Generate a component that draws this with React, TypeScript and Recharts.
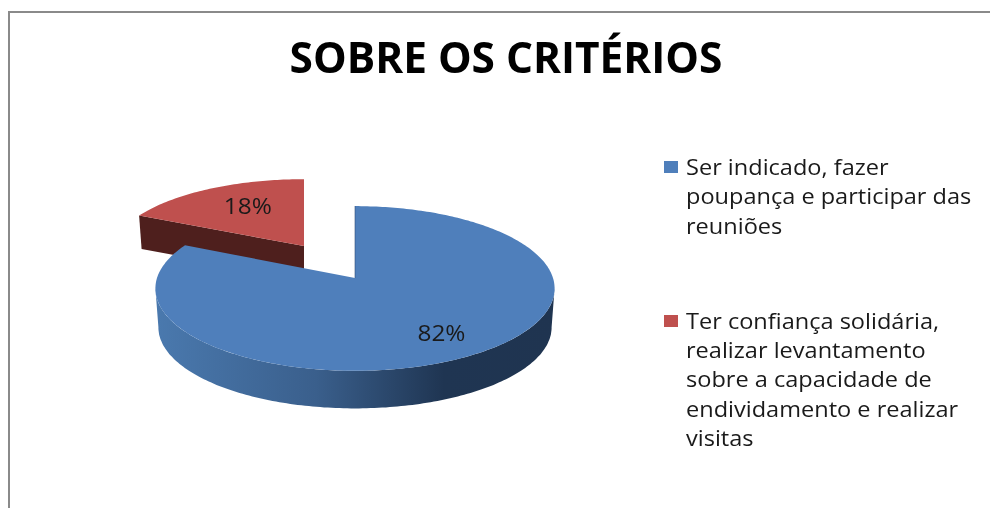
import React from 'react';
import { PieChart, Pie, Legend } from 'recharts';

const CATEGORIES = [
  'Ser indicado, fazer poupança e participar das reuniões',
  'Ter confiança solidária, realizar levantamento sobre a capacidade de endividamento e realizar visitas',
];
const VALUES = [82, 18];
const COLORS = ['#4f7fbb', '#bf504e'];
const TITLE = 'SOBRE OS CRITÉRIOS';

// drawn back to front, so the exploded slice goes first
const pieData = CATEGORIES.map((name, i) => ({ name, value: VALUES[i], fill: COLORS[i] })).reverse();
const total = VALUES.reduce((a, b) => a + b, 0);
const START_ANGLE = 90 + (VALUES[1] / total) * 360;

const CX = 355;
const CY = 278;
const RADIUS = 198;
const SQUASH = 81;
const PERSPECTIVE = 0.127;
const BOTTOM_SCALE = 0.985;

// per slice look of the fake 3D, keyed by category
const SLICE_LOOK: Record<string, any> = {
  [CATEGORIES[0]]: { dx: 0, dy: 0, scaleX: 1, scaleY: 1, depth: 39, labelR: 0.75, labelDy: -1 },
  [CATEGORIES[1]]: { dx: -51, dy: -32, scaleX: 0.97, scaleY: 0.93, depth: 33, labelR: 0.58, labelDy: -5 },
};

const project = (angle: number, r: number, look: any, drop = 0, scale = 1) => {
  const t = (angle * Math.PI) / 180;
  const w = 1 + PERSPECTIVE * r * Math.sin(t);
  return {
    x: CX + look.dx + (RADIUS * r * Math.cos(t) * look.scaleX * scale) / w,
    y: CY + look.dy + drop - (SQUASH * r * Math.sin(t) * look.scaleY * scale) / w,
  };
};

const arcPoints = (from: number, to: number, look: any, drop = 0, scale = 1) => {
  const steps = Math.max(2, Math.ceil(Math.abs(to - from)));
  const pts = [];
  for (let i = 0; i <= steps; i++) {
    pts.push(project(from + ((to - from) * i) / steps, 1, look, drop, scale));
  }
  return pts;
};

const toPath = (pts: { x: number; y: number }[]) =>
  'M' + pts.map((p) => `${p.x.toFixed(1)},${p.y.toFixed(1)}`).join('L') + 'Z';

const Slice3D = (props: any) => {
  const { startAngle, endAngle, fill, name, payload } = props;
  const look = SLICE_LOOK[name ?? payload?.name];
  const hi = Math.max(startAngle, endAngle);
  const lo = Math.min(startAngle, endAngle);
  const apex = project(0, 0, look);
  const isBlue = look.dx === 0;

  let wall;
  if (isBlue) {
    // outer rim between the two widest points of the ellipse
    const widest = (Math.asin(PERSPECTIVE) * 180) / Math.PI;
    const top = arcPoints(-180 + widest, -widest, look);
    const bottom = arcPoints(-widest, -180 + widest, look, look.depth, BOTTOM_SCALE);
    wall = <path d={toPath([...top, ...bottom])} fill="url(#blueRim)" />;
  } else {
    const tip = project(hi, 1, look);
    const tipLow = project(hi, 1, look, look.depth, BOTTOM_SCALE);
    wall = (
      <path
        d={toPath([tip, apex, { x: apex.x, y: apex.y + look.depth }, tipLow])}
        fill="#4e1f1d"
      />
    );
  }

  return (
    <g>
      <defs>
        <linearGradient id="blueRim" gradientUnits="userSpaceOnUse" x1="156" y1="0" x2="556" y2="0">
          <stop offset="0" stopColor="#4a79ae" />
          <stop offset="0.4" stopColor="#3a5f8c" />
          <stop offset="0.72" stopColor="#1f3552" />
          <stop offset="1" stopColor="#1f3450" />
        </linearGradient>
      </defs>
      {wall}
      <path d={toPath([apex, ...arcPoints(lo, hi, look)])} fill={fill} />
      {isBlue && (
        <line x1={apex.x} y1={apex.y} x2={apex.x} y2={apex.y - 72} stroke="#2f4f78" strokeOpacity={0.6} />
      )}
    </g>
  );
};

const renderLabel = (props: any) => {
  const { midAngle, percent, name, payload } = props;
  const look = SLICE_LOOK[name ?? payload?.name];
  const p = project(midAngle, look.labelR, look);
  return (
    <text
      x={p.x}
      y={p.y + look.labelDy}
      textAnchor="middle"
      dominantBaseline="central"
      fontFamily="'Open Sans', sans-serif"
      fontSize={21}
      textLength={48}
      lengthAdjust="spacingAndGlyphs"
      fill="#1a1a1a"
    >
      {`${Math.round(percent * 100)}%`}
    </text>
  );
};

const LegendList = () => (
  <div style={{ fontFamily: "'Open Sans', sans-serif", fontSize: 22, lineHeight: '29.3px', color: '#1a1a1a' }}>
    {CATEGORIES.map((name, i) => (
      <div key={name} style={{ position: 'relative', paddingLeft: 22, marginBottom: i === 0 ? 66 : 0 }}>
        <span
          style={{
            position: 'absolute',
            left: 0,
            top: 9,
            width: 14,
            height: 12,
            background: COLORS[i],
          }}
        />
        {/* the source picture is stretched sideways, the text too */}
        <div style={{ width: 272, transform: 'scaleX(1.07)', transformOrigin: 'left top' }}>{name}</div>
      </div>
    ))}
  </div>
);

export default function App() {
  return (
    <div
      style={{
        position: 'absolute',
        left: 0,
        top: 0,
        width: 990,
        height: 508,
        overflow: 'hidden',
        background: '#fff',
        filter: 'blur(0.4px)',
      }}
    >
      <div
        style={{
          position: 'absolute',
          left: 8,
          top: 11,
          width: 990,
          height: 520,
          borderTop: '2px solid #8a8a8a',
          borderLeft: '2px solid #8a8a8a',
        }}
      />
      <div
        style={{
          position: 'absolute',
          left: 0,
          top: 29,
          width: 1012,
          textAlign: 'center',
          fontFamily: "'Open Sans', sans-serif",
          fontWeight: 700,
          fontSize: 42.4,
          lineHeight: '56px',
          color: '#000',
        }}
      >
        {TITLE}
      </div>
      <PieChart width={990} height={508} style={{ position: 'absolute', left: 0, top: 0 }}>
        <Pie
          data={pieData}
          dataKey="value"
          nameKey="name"
          cx={CX}
          cy={CY}
          innerRadius={0}
          outerRadius={RADIUS}
          startAngle={START_ANGLE}
          endAngle={START_ANGLE - 360}
          stroke="none"
          shape={Slice3D}
          label={renderLabel}
          labelLine={false}
          isAnimationActive={false}
        />
        <Legend
          content={<LegendList />}
          layout="vertical"
          wrapperStyle={{ left: 664, top: 152, width: 320, bottom: 'auto' }}
        />
      </PieChart>
    </div>
  );
}
